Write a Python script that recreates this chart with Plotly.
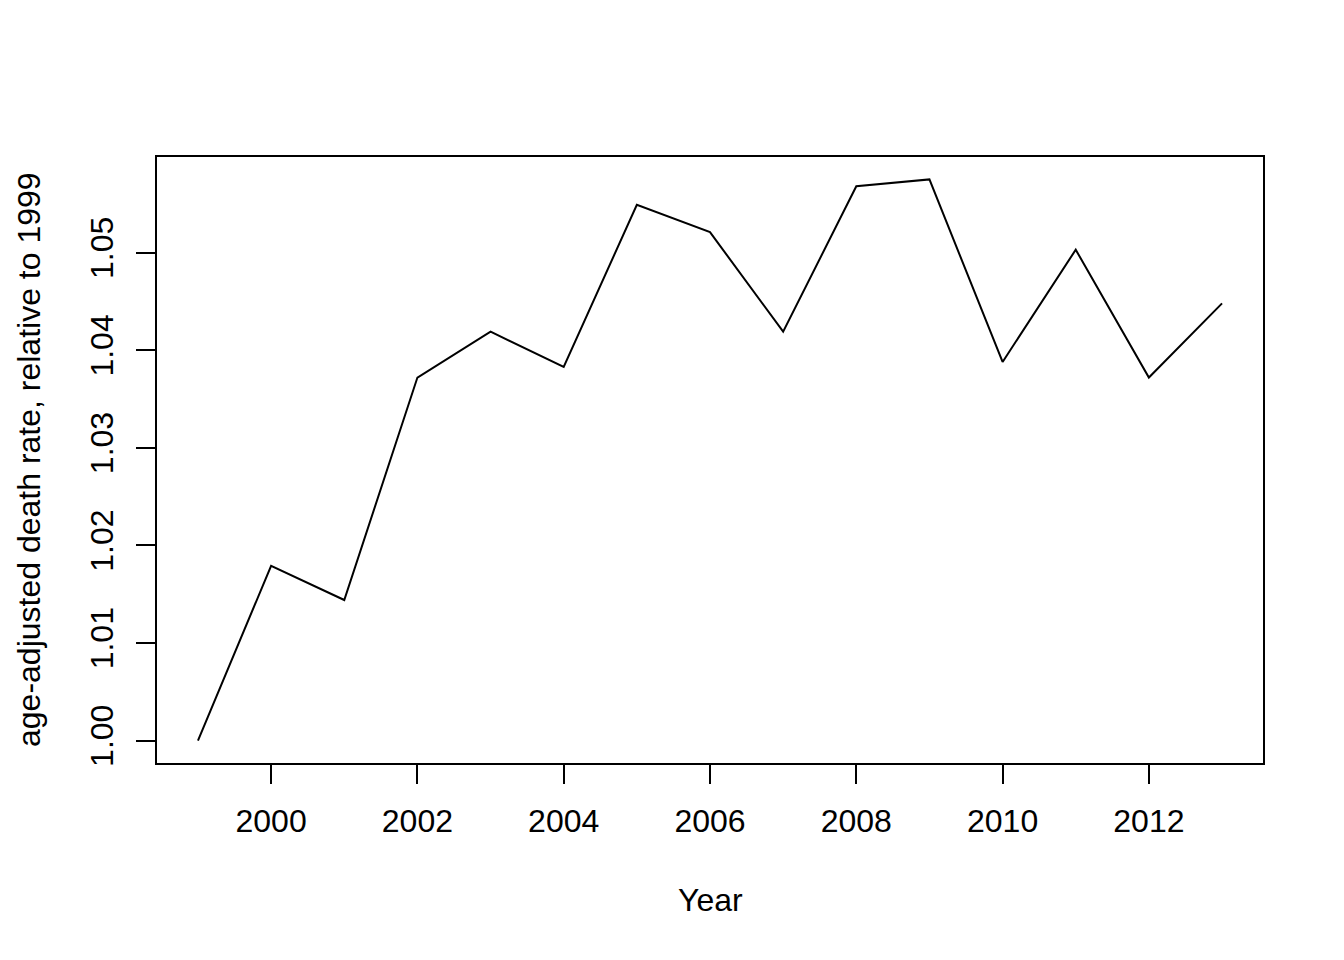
import plotly.graph_objects as go

years = [1999, 2000, 2001, 2002, 2003, 2004, 2005, 2006, 2007, 2008, 2009, 2010, 2011, 2012, 2013]
rate = [1.0000, 1.0179, 1.0144, 1.0372, 1.0419, 1.0383, 1.0549, 1.0521, 1.0419,
        1.0568, 1.0575, 1.0388, 1.0503, 1.0372, 1.0448]
x_ticks = [2000, 2002, 2004, 2006, 2008, 2010, 2012]
y_ticks = [1.00, 1.01, 1.02, 1.03, 1.04, 1.05]

FONT = "Liberation Sans, Arial, sans-serif"

def r_range(v):
    lo, hi = min(v), max(v)
    d = (hi - lo) * 0.04
    return [lo - d, hi + d]

fig = go.Figure()
fig.add_trace(go.Scatter(x=years, y=rate, mode="lines",
                         line=dict(color="black", width=2), showlegend=False))

axis_common = dict(showline=True, mirror=True, linecolor="black", linewidth=2,
                   ticks="outside", ticklen=19, tickwidth=2, tickcolor="black",
                   showgrid=False, zeroline=False,
                   tickfont=dict(family=FONT, size=32, color="black"))

fig.update_xaxes(range=r_range(years), tickvals=x_ticks,
                 ticktext=[str(t) for t in x_ticks], ticklabelstandoff=10, **axis_common)
fig.update_yaxes(range=r_range(rate), tickvals=y_ticks,
                 ticktext=[f"{t:.2f}" for t in y_ticks], tickangle=-90,
                 ticklabelstandoff=10, **axis_common)

fig.add_annotation(text="Year", xref="paper", yref="paper", x=0.5, y=0,
                   xanchor="center", yanchor="middle", yshift=-137, showarrow=False,
                   font=dict(family=FONT, size=32, color="black"))
fig.add_annotation(text="age-adjusted death rate, relative to 1999", xref="paper", yref="paper",
                   x=0, y=0.5, xanchor="center", yanchor="middle", xshift=-128,
                   textangle=-90, showarrow=False,
                   font=dict(family=FONT, size=32, color="black"))

# page body has an 8px default margin, so the figure is sized to fit inside it
fig.update_layout(width=1336, height=952, margin=dict(l=149, r=81, t=149, b=197),
                  paper_bgcolor="white", plot_bgcolor="white",
                  font=dict(family=FONT, size=32, color="black"))

fig.write_html("out.html")
